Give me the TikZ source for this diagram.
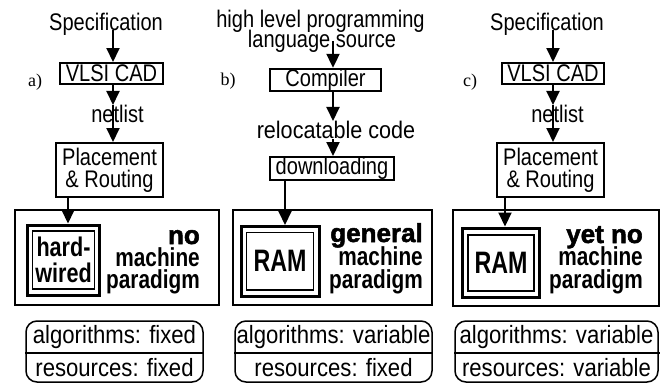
\documentclass[tikz,border=0pt]{standalone}
\usepackage{fontspec}
\usetikzlibrary{arrows.meta}
\setmainfont{Liberation Sans}
\newfontfamily\nfont{Liberation Sans}[FakeStretch=0.835]
\newfontfamily\wfont{Liberation Sans}[FakeStretch=0.9]
\newfontfamily\pfont{Liberation Sans}[FakeStretch=0.885]
\newfontfamily\cbfont{Liberation Sans}[FakeStretch=0.8]
\newfontfamily\rfont{Liberation Sans}[FakeStretch=0.75]
\newfontfamily\hvfont{Liberation Sans}[BoldFeatures={FakeBold=2}]
\newfontfamily\sfont{Liberation Serif}

\tikzset{
  reg/.style={inner sep=0pt, font=\nfont\fontsize{24pt}{22pt}\selectfont},
  plain/.style={inner sep=0pt, font=\pfont\fontsize{25pt}{22pt}\selectfont},
  lab/.style={inner sep=0pt, font=\sfont\fontsize{18pt}{18pt}\selectfont},
  box/.style={reg, draw, line width=2pt},
  bigbox/.style={draw, line width=2pt, inner sep=0pt},
  outerf/.style={draw, line width=3pt, inner sep=0pt},
  innerf/.style={draw, line width=1.7pt, inner sep=0pt, align=center,
                 font=\cbfont\bfseries\fontsize{27pt}{26pt}\selectfont},
  ramtext/.style={font=\rfont\bfseries\fontsize{31pt}{30pt}\selectfont},
  cond/.style={inner sep=0pt, anchor=base east,
               font=\cbfont\bfseries\fontsize{26pt}{24pt}\selectfont},
  heavy/.style={inner sep=0pt, anchor=base east,
                font=\hvfont\bfseries\fontsize{26pt}{26pt}\selectfont},
  pill/.style={draw, line width=1.5pt, rounded corners=11pt, inner sep=0pt},
  divider/.style={line width=2pt},
  arr/.style={line width=2pt, -{Triangle[width=13pt,length=14pt]}}
}

\begin{document}
\begin{tikzpicture}[x=1pt,y=-1pt]
\useasboundingbox (0,0) rectangle (660,383);

% ---------- a) hard-wired ----------
\node[lab] (la) at (35,82) {a)};
\node[reg] (specA) at (106,24) {Specification};
\node[box, minimum width=103pt, minimum height=21pt] (vlsiA) at (111.5,73.5) {VLSI CAD};
\node[reg] (netA) at (117.5,114) {netlist};
\node[box, minimum width=107pt, minimum height=54pt, align=center] (placeA) at (109.5,170) {Placement\\\& Routing};
\node[bigbox, minimum width=204pt, minimum height=95pt] (machA) at (117,257.5) {};
\node[outerf, minimum width=71.5pt, minimum height=70pt] (ofA) at (63.25,260) {};
\node[innerf, minimum width=62pt, minimum height=58pt] (hwA) at (63.5,260) {hard-\\wired};
\node[heavy] (t1A) at (200,244) {no};
\node[cond] (t2A) at (200,266) {machine};
\node[cond] (t3A) at (200,288) {paradigm};
\node[pill, minimum width=177pt, minimum height=61pt] (pillA) at (114.5,351.5) {};
\node[plain] (algA) at (114.5,337) {algorithms: fixed};
\node[plain] (resA) at (114.5,368) {resources: fixed};
\draw[divider] (pillA.west |- 0,353) -- (pillA.east |- 0,353);

\path (113,0) coordinate (axA) (68,0) coordinate (dxA);
\draw[arr] (axA |- specA.base) -- (axA |- vlsiA.north);
\draw[arr] (axA |- vlsiA.south) -- (axA |- netA.north);
\draw[arr] (axA |- netA.north) -- (axA |- placeA.north);
\draw[arr] (dxA |- placeA.south) -- (dxA |- ofA.north);

% ---------- b) RAM with general machine paradigm ----------
\node[lab] (lb) at (228,81) {b)};
\node[reg] (srcB1) at (320.5,21) {high level programming};
\node[reg] (srcB2) at (322,41) {language source};
\node[box, minimum width=111pt, minimum height=22pt] (compB) at (325.5,80) {Compiler};
\node[reg, font=\wfont\fontsize{24pt}{22pt}\selectfont] (relB) at (336,130) {relocatable code};
\node[box, minimum width=124pt, minimum height=23pt] (downB) at (332,168.5) {downloading};
\node[bigbox, minimum width=199pt, minimum height=95pt] (machB) at (332.5,257.5) {};
\node[outerf, minimum width=77.5pt, minimum height=70pt] (ofB) at (280.25,261.5) {};
\node[innerf, ramtext, minimum width=67pt, minimum height=57.5pt] (ramB) at (280,261.25) {RAM};
\node[heavy] (t1B) at (423,242) {general};
\node[cond] (t2B) at (423,265) {machine};
\node[cond] (t3B) at (423,288) {paradigm};
\node[pill, minimum width=197pt, minimum height=61pt] (pillB) at (333.5,351.5) {};
\node[plain] (algB) at (333.5,337) {algorithms: variable};
\node[plain] (resB) at (333.5,368) {resources: fixed};
\draw[divider] (pillB.west |- 0,353) -- (pillB.east |- 0,353);

\path (333,0) coordinate (axB) (285,0) coordinate (dxB);
\draw[arr] (axB |- srcB2.center) -- (axB |- compB.north);
\draw[arr] (axB |- compB.south) -- (axB |- relB.north);
\draw[arr] (axB |- relB.south) -- (axB |- downB.north);
\draw[arr] (dxB |- downB.south) -- (dxB |- ofB.north);

% ---------- c) RAM with no machine paradigm yet ----------
\node[lab] (lc) at (470,82) {c)};
\node[reg] (specC) at (547,24) {Specification};
\node[box, minimum width=102pt, minimum height=21pt] (vlsiC) at (553,73.5) {VLSI CAD};
\node[reg] (netC) at (557.5,114) {netlist};
\node[box, minimum width=107pt, minimum height=54pt, align=center] (placeC) at (550.5,170) {Placement\\\& Routing};
\node[bigbox, minimum width=206pt, minimum height=96pt] (machC) at (556,258) {};
\node[outerf, minimum width=77pt, minimum height=69pt] (ofC) at (500.5,262.5) {};
\node[innerf, ramtext, minimum width=66pt, minimum height=56pt] (ramC) at (501,263) {RAM};
\node[heavy] (t1C) at (643,243) {yet no};
\node[cond] (t2C) at (643,265) {machine};
\node[cond] (t3C) at (643,288) {paradigm};
\node[pill, minimum width=203pt, minimum height=61pt] (pillC) at (556.5,351.5) {};
\node[plain] (algC) at (556.5,337) {algorithms: variable};
\node[plain] (resC) at (556.5,368) {resources: variable};
\draw[divider] (pillC.west |- 0,353) -- (662,353);

\path (553,0) coordinate (axC) (505,0) coordinate (dxC);
\draw[arr] (axC |- specC.base) -- (axC |- vlsiC.north);
\draw[arr] (axC |- vlsiC.south) -- (axC |- netC.north);
\draw[arr] (axC |- netC.north) -- (axC |- placeC.north);
\draw[arr] (dxC |- placeC.south) -- (dxC |- ofC.north);
\end{tikzpicture}
\end{document}
